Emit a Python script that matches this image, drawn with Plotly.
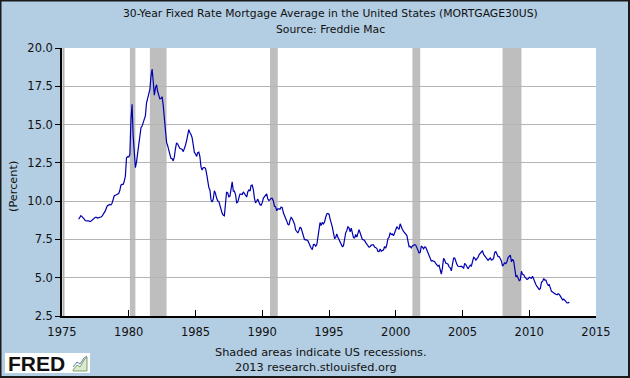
import pandas as pd
import plotly.graph_objects as go

# Monthly 30-year fixed mortgage rate (percent), starting April 1976
rates_1970s = [
    8.82, 8.99, 9.05, 8.99, 8.93, 8.82, 8.72, 8.74, 8.71,            # 1976 Apr-Dec
    8.72, 8.67, 8.69, 8.75, 8.83, 8.86, 8.94, 8.94, 8.90, 8.92, 8.92, 8.96,  # 1977
    9.02, 9.15, 9.20, 9.36, 9.57, 9.71, 9.74, 9.78, 9.76, 9.86, 10.11, 10.35,  # 1978
    10.39, 10.41, 10.43, 10.50, 10.69, 11.04, 11.09, 11.09, 11.30, 11.64, 12.83, 12.90,  # 1979
]
rates_1980s = [
    12.88, 13.04, 15.28, 16.32, 14.26, 12.71, 12.19, 12.56, 13.20, 13.79, 14.21, 14.79,  # 1980
    14.90, 15.13, 15.40, 15.58, 16.40, 16.70, 16.83, 17.29, 18.16, 18.63, 17.83, 16.92,  # 1981
    17.40, 17.60, 17.16, 16.89, 16.68, 16.70, 16.82, 16.27, 15.43, 14.61, 13.83, 13.62,  # 1982
    13.25, 13.04, 12.80, 12.78, 12.63, 12.87, 13.42, 13.81, 13.73, 13.54, 13.44, 13.42,  # 1983
    13.37, 13.23, 13.39, 13.65, 13.94, 14.42, 14.67, 14.47, 14.35, 14.13, 13.64, 13.18,  # 1984
    13.08, 12.92, 13.17, 13.20, 12.91, 12.22, 12.03, 12.19, 12.19, 12.14, 11.78, 11.26,  # 1985
    10.88, 10.71, 10.08, 9.94, 10.14, 10.68, 10.51, 10.20, 10.01, 9.98, 9.70, 9.31,      # 1986
    9.20, 9.08, 9.04, 9.83, 10.60, 10.54, 10.28, 10.33, 10.89, 11.26, 10.65, 10.65,     # 1987
    10.43, 9.89, 9.93, 10.20, 10.46, 10.46, 10.43, 10.60, 10.48, 10.30, 10.27, 10.61,   # 1988
    10.73, 10.65, 11.03, 11.05, 10.77, 10.20, 9.88, 9.99, 10.13, 9.95, 9.77, 9.74,      # 1989
]
rates_1990s = [
    9.90, 10.20, 10.27, 10.37, 10.48, 10.16, 10.04, 10.10, 10.18, 10.18, 10.01, 9.67,   # 1990
    9.64, 9.37, 9.50, 9.49, 9.47, 9.62, 9.58, 9.24, 9.01, 8.86, 8.71, 8.50,             # 1991
    8.43, 8.76, 8.94, 8.85, 8.67, 8.51, 8.13, 7.98, 7.92, 8.09, 8.31, 8.22,             # 1992
    7.99, 7.68, 7.50, 7.47, 7.47, 7.42, 7.21, 7.11, 6.92, 6.83, 7.16, 7.17,             # 1993
    7.06, 7.15, 7.68, 8.32, 8.60, 8.40, 8.61, 8.51, 8.64, 8.93, 9.17, 9.20,             # 1994
    9.15, 8.83, 8.46, 8.32, 7.96, 7.57, 7.61, 7.86, 7.64, 7.48, 7.38, 7.20,             # 1995
    7.03, 7.08, 7.62, 7.93, 8.07, 8.32, 8.25, 8.00, 8.23, 7.92, 7.62, 7.60,             # 1996
    7.82, 7.65, 7.90, 8.14, 7.94, 7.69, 7.50, 7.48, 7.43, 7.29, 7.21, 7.10,             # 1997
    6.99, 7.04, 7.13, 7.14, 7.14, 7.00, 6.95, 6.92, 6.72, 6.71, 6.87, 6.72,             # 1998
    6.79, 6.81, 7.04, 6.92, 7.15, 7.55, 7.63, 7.94, 7.82, 7.85, 7.74, 7.91,             # 1999
]
rates_2000s = [
    8.21, 8.33, 8.24, 8.15, 8.52, 8.29, 8.15, 8.03, 7.91, 7.80, 7.75, 7.38,             # 2000
    7.03, 7.05, 6.95, 7.08, 7.15, 7.16, 7.13, 6.95, 6.82, 6.62, 6.66, 7.07,             # 2001
    7.00, 6.89, 7.01, 6.99, 6.81, 6.65, 6.49, 6.29, 6.09, 6.11, 6.07, 6.05,             # 2002
    5.92, 5.84, 5.75, 5.81, 5.48, 5.23, 5.63, 6.26, 6.15, 5.95, 5.93, 5.88,             # 2003
    5.71, 5.64, 5.45, 5.83, 6.27, 6.29, 6.06, 5.87, 5.75, 5.72, 5.73, 5.75,             # 2004
    5.71, 5.63, 5.93, 5.86, 5.72, 5.58, 5.70, 5.82, 5.77, 6.07, 6.33, 6.27,             # 2005
    6.15, 6.25, 6.32, 6.51, 6.60, 6.68, 6.76, 6.52, 6.40, 6.36, 6.24, 6.14,             # 2006
    6.22, 6.29, 6.16, 6.18, 6.26, 6.66, 6.70, 6.57, 6.38, 6.38, 6.21, 6.10,             # 2007
    5.76, 5.92, 5.97, 5.92, 6.04, 6.32, 6.43, 6.48, 6.04, 6.20, 6.09, 5.33,             # 2008
    5.06, 5.13, 5.00, 4.81, 4.86, 5.42, 5.22, 5.19, 5.06, 4.95, 4.88, 4.93,             # 2009
]
rates_2010s = [
    5.03, 4.99, 4.97, 5.10, 4.89, 4.74, 4.56, 4.43, 4.35, 4.23, 4.30, 4.71,             # 2010
    4.76, 4.95, 4.84, 4.84, 4.64, 4.51, 4.55, 4.27, 4.11, 4.07, 3.99, 3.96,             # 2011
    3.92, 3.89, 3.95, 3.91, 3.80, 3.68, 3.55, 3.60, 3.50, 3.38, 3.35, 3.35,             # 2012
    3.41,                                                                              # 2013 Jan
]
start_month = "1976-04-01"

recession_starts = ["1980-02-01", "1981-08-01", "1990-08-01", "2001-04-01", "2008-01-01"]
recession_ends = ["1980-07-01", "1982-11-01", "1991-03-01", "2001-11-01", "2009-06-01"]

y_ticks = [2.5, 5.0, 7.5, 10.0, 12.5, 15.0, 17.5, 20.0]
x_ticks = [1975, 1980, 1985, 1990, 1995, 2000, 2005, 2010, 2015]

title_line1 = "30-Year Fixed Rate Mortgage Average in the United States (MORTGAGE30US)"
title_line2 = "Source: Freddie Mac"
footer_line1 = "Shaded areas indicate US recessions."
footer_line2 = "2013 research.stlouisfed.org"
y_title = "(Percent)"

rates = rates_1970s + rates_1980s + rates_1990s + rates_2000s + rates_2010s
dates = pd.date_range(start_month, periods=len(rates), freq="MS")

W, H = 630, 378
L, R, T, B = 62, 34, 48, 62
pw, ph = W - L - R, H - T - B

def px(xpix):
    return (xpix - L) / pw

def py(ypix):
    return 1 - (ypix - T) / ph

BG = "#B3CDE3"
FONT = "DejaVu Sans"
TXT = "#111111"

fig = go.Figure()
fig.add_trace(go.Scatter(
    x=dates, y=rates, mode="lines",
    line=dict(color="#0000B0", width=1.2),
    hoverinfo="x+y", showlegend=False,
))

shapes = []
for s, e in zip(recession_starts, recession_ends):
    shapes.append(dict(type="rect", xref="x", yref="paper", x0=s, x1=e, y0=0, y1=1,
                       fillcolor="#BEBEBE", line=dict(width=0), layer="between"))
# left axis shadow
shapes.append(dict(type="line", xref="paper", yref="paper", x0=px(63.5), x1=px(63.5), y0=0, y1=1,
                   line=dict(color="#B0B0B0", width=2), layer="above"))
# outer border
shapes.append(dict(type="rect", xref="paper", yref="paper",
                   x0=px(0.5), x1=px(W - 1), y0=py(H - 1), y1=py(0.5),
                   line=dict(color="#1A1A1A", width=2), fillcolor="rgba(0,0,0,0)", layer="above"))
# FRED logo box
shapes.append(dict(type="rect", xref="paper", yref="paper",
                   x0=px(5), x1=px(90), y0=py(373), y1=py(353),
                   line=dict(width=0), fillcolor="white", layer="above"))
# small chart icon
shapes.append(dict(type="path", xref="paper", yref="paper",
                   path=f"M {px(73)} {py(370)} L {px(77)} {py(365)} L {px(80)} {py(367)} L {px(84)} {py(360)} L {px(87)} {py(357)} L {px(87)} {py(371)} L {px(73)} {py(371)} Z",
                   line=dict(color="#7FA36B", width=1), fillcolor="#DCE8D0", layer="above"))
shapes.append(dict(type="path", xref="paper", yref="paper",
                   path=f"M {px(73)} {py(367)} L {px(77)} {py(362)} L {px(80)} {py(364)} L {px(84)} {py(358)} L {px(87)} {py(356)}",
                   line=dict(color="#5A7FA8", width=1), layer="above"))

def note(text, x, y, size, family=FONT, xanchor="center", angle=0):
    return dict(text=text, x=px(x), y=py(y), xref="paper", yref="paper",
                xanchor=xanchor, yanchor="middle", textangle=angle,
                showarrow=False, font=dict(family=family, size=size, color=TXT))

annotations = [
    note(title_line1, 330, 14, 10.8),
    note(title_line2, 330, 29, 10.8),
    note(footer_line1, 321, 352, 11.3),
    note(footer_line2, 316, 367, 11.3),
    note(y_title, 13, 187, 11.3, angle=-90),
    note("<b>FRED</b>", 6, 363, 21, family="Liberation Sans", xanchor="left"),
]

fig.update_layout(
    width=W, height=H,
    margin=dict(l=L, r=R, t=T, b=B, autoexpand=False),
    paper_bgcolor=BG, plot_bgcolor="white",
    showlegend=False,
    shapes=shapes, annotations=annotations,
    font=dict(family=FONT, size=11, color=TXT),
    xaxis=dict(
        range=["1975-01-01", "2015-01-01"],
        tickvals=[pd.Timestamp(f"{y}-01-01") for y in x_ticks],
        ticktext=[str(y) for y in x_ticks],
        showgrid=False, zeroline=False, automargin=False,
        showline=True, linecolor="#000000", linewidth=1.5,
        ticks="inside", ticklen=6, tickcolor="#000000", tickwidth=1,
        ticklabelstandoff=4,
        tickfont=dict(family=FONT, size=11.5, color=TXT),
        fixedrange=True,
    ),
    yaxis=dict(
        range=[2.5, 20.0],
        tickvals=y_ticks,
        ticktext=[f"{v:.1f}" for v in y_ticks],
        showgrid=True, gridcolor="#B4B4B4", gridwidth=1,
        zeroline=False, automargin=False,
        showline=True, linecolor="#000000", linewidth=1.5,
        ticks="outside", ticklen=5, tickcolor="#000000",
        tickfont=dict(family=FONT, size=11.5, color=TXT),
        fixedrange=True,
    ),
)

fig.write_html(
    "out.html",
    config={"displayModeBar": False},
    post_script="document.body.style.margin='0';document.body.style.overflow='hidden';",
)
